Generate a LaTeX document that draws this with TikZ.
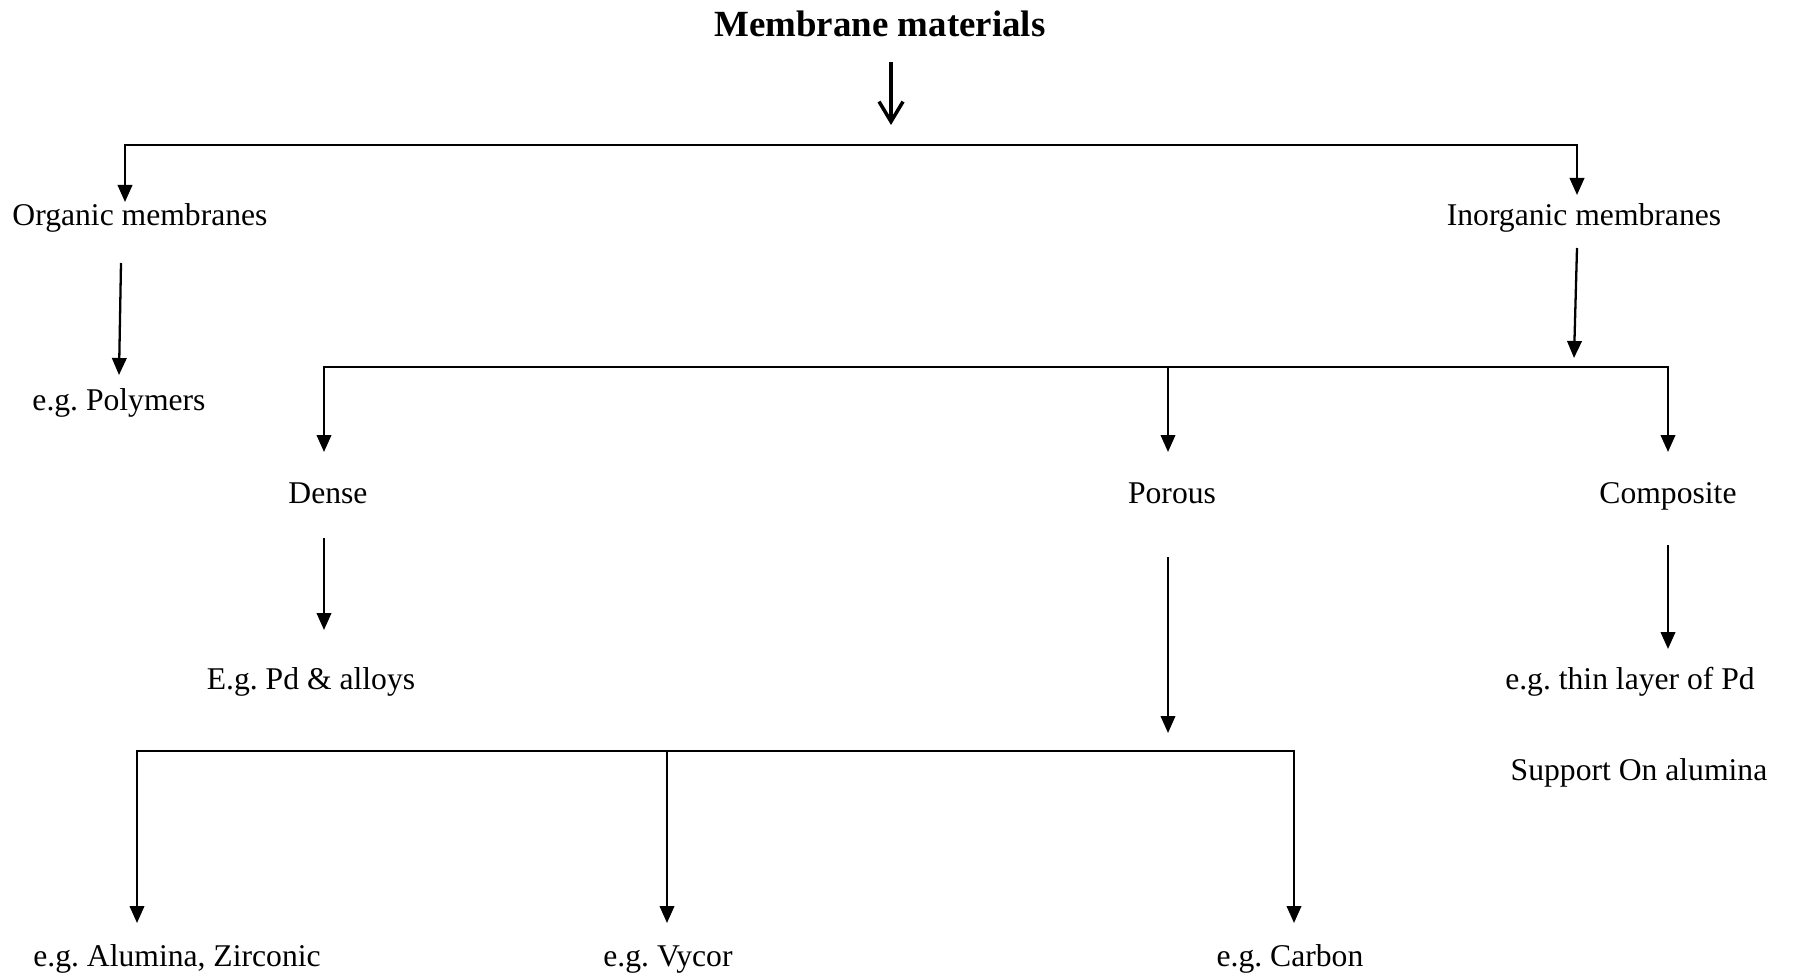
\documentclass[tikz,border=0pt]{standalone}
\usepackage{fontspec}
\setmainfont{Liberation Serif}
\usetikzlibrary{arrows.meta}
\frenchspacing

\begin{document}
\begin{tikzpicture}[
  font=\fontsize{9}{11}\selectfont,
  lbl/.style={anchor=base, inner sep=0pt},
  arr/.style={-{Triangle[length=1.7mm, width=1.45mm]}, line width=0.65pt},
  twoarr/.style={{Triangle[length=1.7mm, width=1.45mm]}-{Triangle[length=1.7mm, width=1.45mm]}, line width=0.65pt}
]
\useasboundingbox (0,0) rectangle (17.95,9.75);

% Title
\node[lbl, font=\fontsize{10.5}{12}\selectfont\bfseries] (title) at (8.80, 9.38) {Membrane materials};
\coordinate (titleOut) at (8.91, 9.13);
\coordinate (titleIn) at (8.91, 8.50);
\draw[-{Straight Barb[length=2mm, width=2.4mm]}, line width=1pt] (titleOut) -- (titleIn);

% First level
\node[lbl] (org) at (1.40, 7.49) {Organic membranes};
\node[lbl] (inorg) at (15.84, 7.49) {Inorganic membranes};
\coordinate (b1L) at (1.25, 8.30);
\coordinate (b1R) at (15.77, 8.30);
\coordinate (orgIn) at (1.25, 7.73);
\coordinate (inorgIn) at (15.77, 7.80);
\draw[twoarr] (orgIn) -- (b1L) -- (b1R) -- (inorgIn);

% Organic branch
\node[lbl] (poly) at (1.19, 5.65) {e.g. Polymers};
\coordinate (orgOut) at (1.21, 7.12);
\coordinate (polyIn) at (1.19, 6.00);
\draw[arr] (orgOut) -- (polyIn);

% Inorganic branch
\coordinate (inorgOut) at (15.77, 7.27);
\coordinate (b2in) at (15.74, 6.17);
\draw[arr] (inorgOut) -- (b2in);

\node[lbl] (dense) at (3.28, 4.72) {Dense};
\node[lbl] (porous) at (11.72, 4.72) {Porous};
\node[lbl] (comp) at (16.68, 4.72) {Composite};
\coordinate (b2L) at (3.24, 6.08);
\coordinate (b2M) at (11.68, 6.08);
\coordinate (b2R) at (16.68, 6.08);
\coordinate (denseIn) at (3.24, 5.23);
\coordinate (porousIn) at (11.68, 5.23);
\coordinate (compIn) at (16.68, 5.23);
\draw[twoarr] (denseIn) -- (b2L) -- (b2R) -- (compIn);
\draw[arr] (b2M) -- (porousIn);

% Dense
\node[lbl] (pd) at (3.11, 2.86) {E.g. Pd \& alloys};
\coordinate (denseOut) at (3.24, 4.37);
\coordinate (pdIn) at (3.24, 3.45);
\draw[arr] (denseOut) -- (pdIn);

% Composite
\node[lbl] (thin) at (16.30, 2.86) {e.g. thin layer of Pd};
\node[lbl] (supp) at (16.39, 1.95) {Support On alumina};
\coordinate (compOut) at (16.68, 4.30);
\coordinate (thinIn) at (16.68, 3.26);
\draw[arr] (compOut) -- (thinIn);

% Porous
\coordinate (porousOut) at (11.68, 4.18);
\coordinate (b3in) at (11.68, 2.42);
\draw[arr] (porousOut) -- (b3in);

\node[lbl] (alu) at (1.77, 0.09) {e.g. Alumina, Zirconic};
\node[lbl] (vycor) at (6.68, 0.09) {e.g. Vycor};
\node[lbl] (carbon) at (12.90, 0.09) {e.g. Carbon};
\coordinate (b3L) at (1.37, 2.24);
\coordinate (b3M) at (6.67, 2.24);
\coordinate (b3R) at (12.94, 2.24);
\coordinate (aluIn) at (1.37, 0.52);
\coordinate (vycorIn) at (6.67, 0.52);
\coordinate (carbonIn) at (12.94, 0.52);
\draw[twoarr] (aluIn) -- (b3L) -- (b3R) -- (carbonIn);
\draw[arr] (b3M) -- (vycorIn);

\end{tikzpicture}
\end{document}
